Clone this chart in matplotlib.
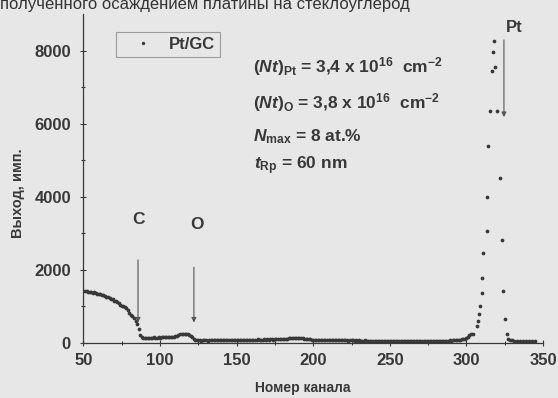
import numpy as np
import matplotlib.pyplot as plt

plt.rcParams['font.family'] = ['Liberation Sans', 'DejaVu Sans']
plt.rcParams['font.weight'] = 'bold'
plt.rcParams['axes.labelweight'] = 'bold'
plt.rcParams['mathtext.fontset'] = 'custom'
plt.rcParams['mathtext.rm'] = 'Liberation Sans:bold'
plt.rcParams['mathtext.it'] = 'Liberation Sans:italic:bold'
plt.rcParams['mathtext.bf'] = 'Liberation Sans:bold'

bg = '#e7e7e7'
ink = '#383838'

# channel 50..303, one value per channel
counts = [
    1420, 1400, 1410, 1390, 1380, 1395, 1370, 1380, 1350, 1340,
    1330, 1320, 1310, 1290, 1280, 1250, 1240, 1230, 1200, 1180,
    1150, 1130, 1100, 1080, 1020, 1010, 990, 970, 940, 880,
    800, 760, 720, 680, 600, 520, 380, 210, 160, 130,
    125, 130, 120, 135, 130, 125, 140, 130, 135, 140,
    135, 145, 140, 150, 145, 140, 150, 155, 150, 160,
    170, 190, 210, 230, 240, 235, 240, 230, 220, 200,
    170, 140, 110, 80, 70, 60, 65, 55, 60, 65,
    60, 55, 65, 60, 70, 65, 60, 70, 65, 60,
    65, 70, 60, 65, 70, 75, 70, 65, 70, 75,
    70, 75, 80, 70, 75, 80, 75, 70, 80, 75,
    80, 75, 70, 80, 85, 80, 75, 80, 85, 80,
    85, 80, 90, 85, 80, 85, 90, 85, 95, 90,
    95, 100, 110, 105, 115, 120, 125, 130, 125, 130,
    135, 130, 125, 120, 110, 105, 100, 90, 85, 80,
    80, 75, 80, 70, 75, 70, 65, 70, 75, 70,
    65, 70, 75, 70, 65, 60, 70, 65, 60, 65,
    60, 65, 60, 55, 60, 65, 60, 55, 60, 55,
    60, 55, 50, 55, 60, 55, 50, 55, 50, 55,
    50, 55, 50, 45, 50, 55, 50, 45, 50, 45,
    50, 45, 50, 45, 40, 45, 50, 45, 40, 45,
    45, 40, 45, 50, 45, 40, 45, 40, 45, 40,
    45, 40, 45, 40, 45, 50, 45, 40, 45, 50,
    45, 50, 45, 50, 55, 50, 55, 50, 55, 60,
    55, 60, 65, 60, 70, 75, 80, 90, 100, 110,
    130, 160, 200, 240,
]
channels = np.arange(50, 50 + len(counts))

# Pt peak, read point by point
pt_x = [304.5, 306.7, 307.8, 308.4, 308.9, 310.0, 310.3, 311.0, 313.2, 313.6,
        314.3, 315.4, 316.5, 317.5, 318.2, 318.8, 319.8, 321.9, 323.0, 324.0,
        325.2, 326.3, 327.2, 328.2, 329.5, 331, 333, 335, 337, 339, 341, 343, 345]
pt_y = [238, 466, 603, 795, 1014, 1348, 1759, 2444, 3068, 3980,
        5397, 6356, 7452, 7953, 8255, 7542, 6356, 4499, 2795, 1425,
        649, 238, 100, 80, 65, 55, 50, 50, 45, 45, 40, 45, 40]

fig = plt.figure(figsize=(5.58, 3.98), dpi=100, facecolor=bg)
ax = fig.add_axes([0.1496, 0.1394, 0.8235, 0.8254], facecolor=bg)

ax.plot(channels, counts, 'o', ms=2.7, mew=0, color=ink, label='Pt/GC')
ax.plot(pt_x, pt_y, 'o', ms=2.7, mew=0, color=ink)

ax.set_xlim(50, 350)
ax.set_ylim(0, 9000)
ax.set_xticks(range(50, 351, 50))
ax.set_xticks(range(75, 350, 50), minor=True)
ax.set_yticks(range(0, 8001, 2000))
ax.set_yticks(range(1000, 9000, 2000), minor=True)
ax.tick_params(direction='inout', length=5, width=0.8, colors=ink, labelsize=12)
ax.tick_params(axis='x', pad=5)
ax.tick_params(axis='y', pad=6.5)
ax.tick_params(which='minor', direction='inout', length=3, width=0.8, colors=ink)
for s in ['top', 'right']:
    ax.spines[s].set_visible(False)
for s in ['left', 'bottom']:
    ax.spines[s].set_color(ink)
    ax.spines[s].set_linewidth(0.9)

ax.set_xlabel('Номер канала', fontsize=10, color=ink, va='center')
ax.xaxis.set_label_coords(0.478, -0.1385)
ax.set_ylabel('Выход, имп.', fontsize=10.5, color=ink, va='center')
ax.yaxis.set_label_coords(-0.1425, 0.455)

leg = ax.legend(loc='upper left', bbox_to_anchor=(0.0707, 0.946), borderaxespad=0,
                fontsize=12, frameon=True, fancybox=False, handlelength=2.6,
                handletextpad=0.3, borderpad=0.3, markerscale=0.9)
leg.get_frame().set_facecolor(bg)
leg.get_frame().set_edgecolor('#8a8a8a')
leg.get_frame().set_linewidth(0.8)
for t in leg.get_texts():
    t.set_color(ink)

txt = dict(fontsize=12.5, color=ink, va='center', ha='left')
ax.text(160.7, 7560, r'$(Nt)_{\mathrm{Pt}}$ = 3,4 x 10$^{16}$  cm$^{-2}$', **txt)
ax.text(160.7, 6580, r'$(Nt)_{\mathrm{O}}$ = 3,8 x 10$^{16}$  cm$^{-2}$', **txt)
ax.text(160.7, 5630, r'$N_{\mathrm{max}}$ = 8 at.%', **txt)
ax.text(161.5, 4850, r'$t_{\mathrm{Rp}}$ = 60 nm', **txt)

ax.text(85.8, 3360, 'C', fontsize=12.5, color=ink, ha='center', va='center')
ax.text(123.9, 3230, 'O', fontsize=12.5, color=ink, ha='center', va='center')
ax.text(331.4, 8630, 'Pt', fontsize=12, color=ink, ha='center', va='center')

arr = dict(arrowstyle='-|>', lw=0.8, color='#555555', mutation_scale=7)
ax.annotate('', xy=(85.6, 470), xytext=(85.6, 2340), arrowprops=arr)
ax.annotate('', xy=(122.1, 470), xytext=(122.1, 2140), arrowprops=arr)
ax.annotate('', xy=(324.5, 6100), xytext=(324.5, 8370), arrowprops=arr)

fig.text(410 / 558, 1 - 9 / 398, 'полученного осаждением платины на стеклоуглерод',
         ha='right', va='baseline', fontsize=12, fontweight='normal', color='#333333')

fig.savefig('out.png', dpi=100, facecolor=bg)
